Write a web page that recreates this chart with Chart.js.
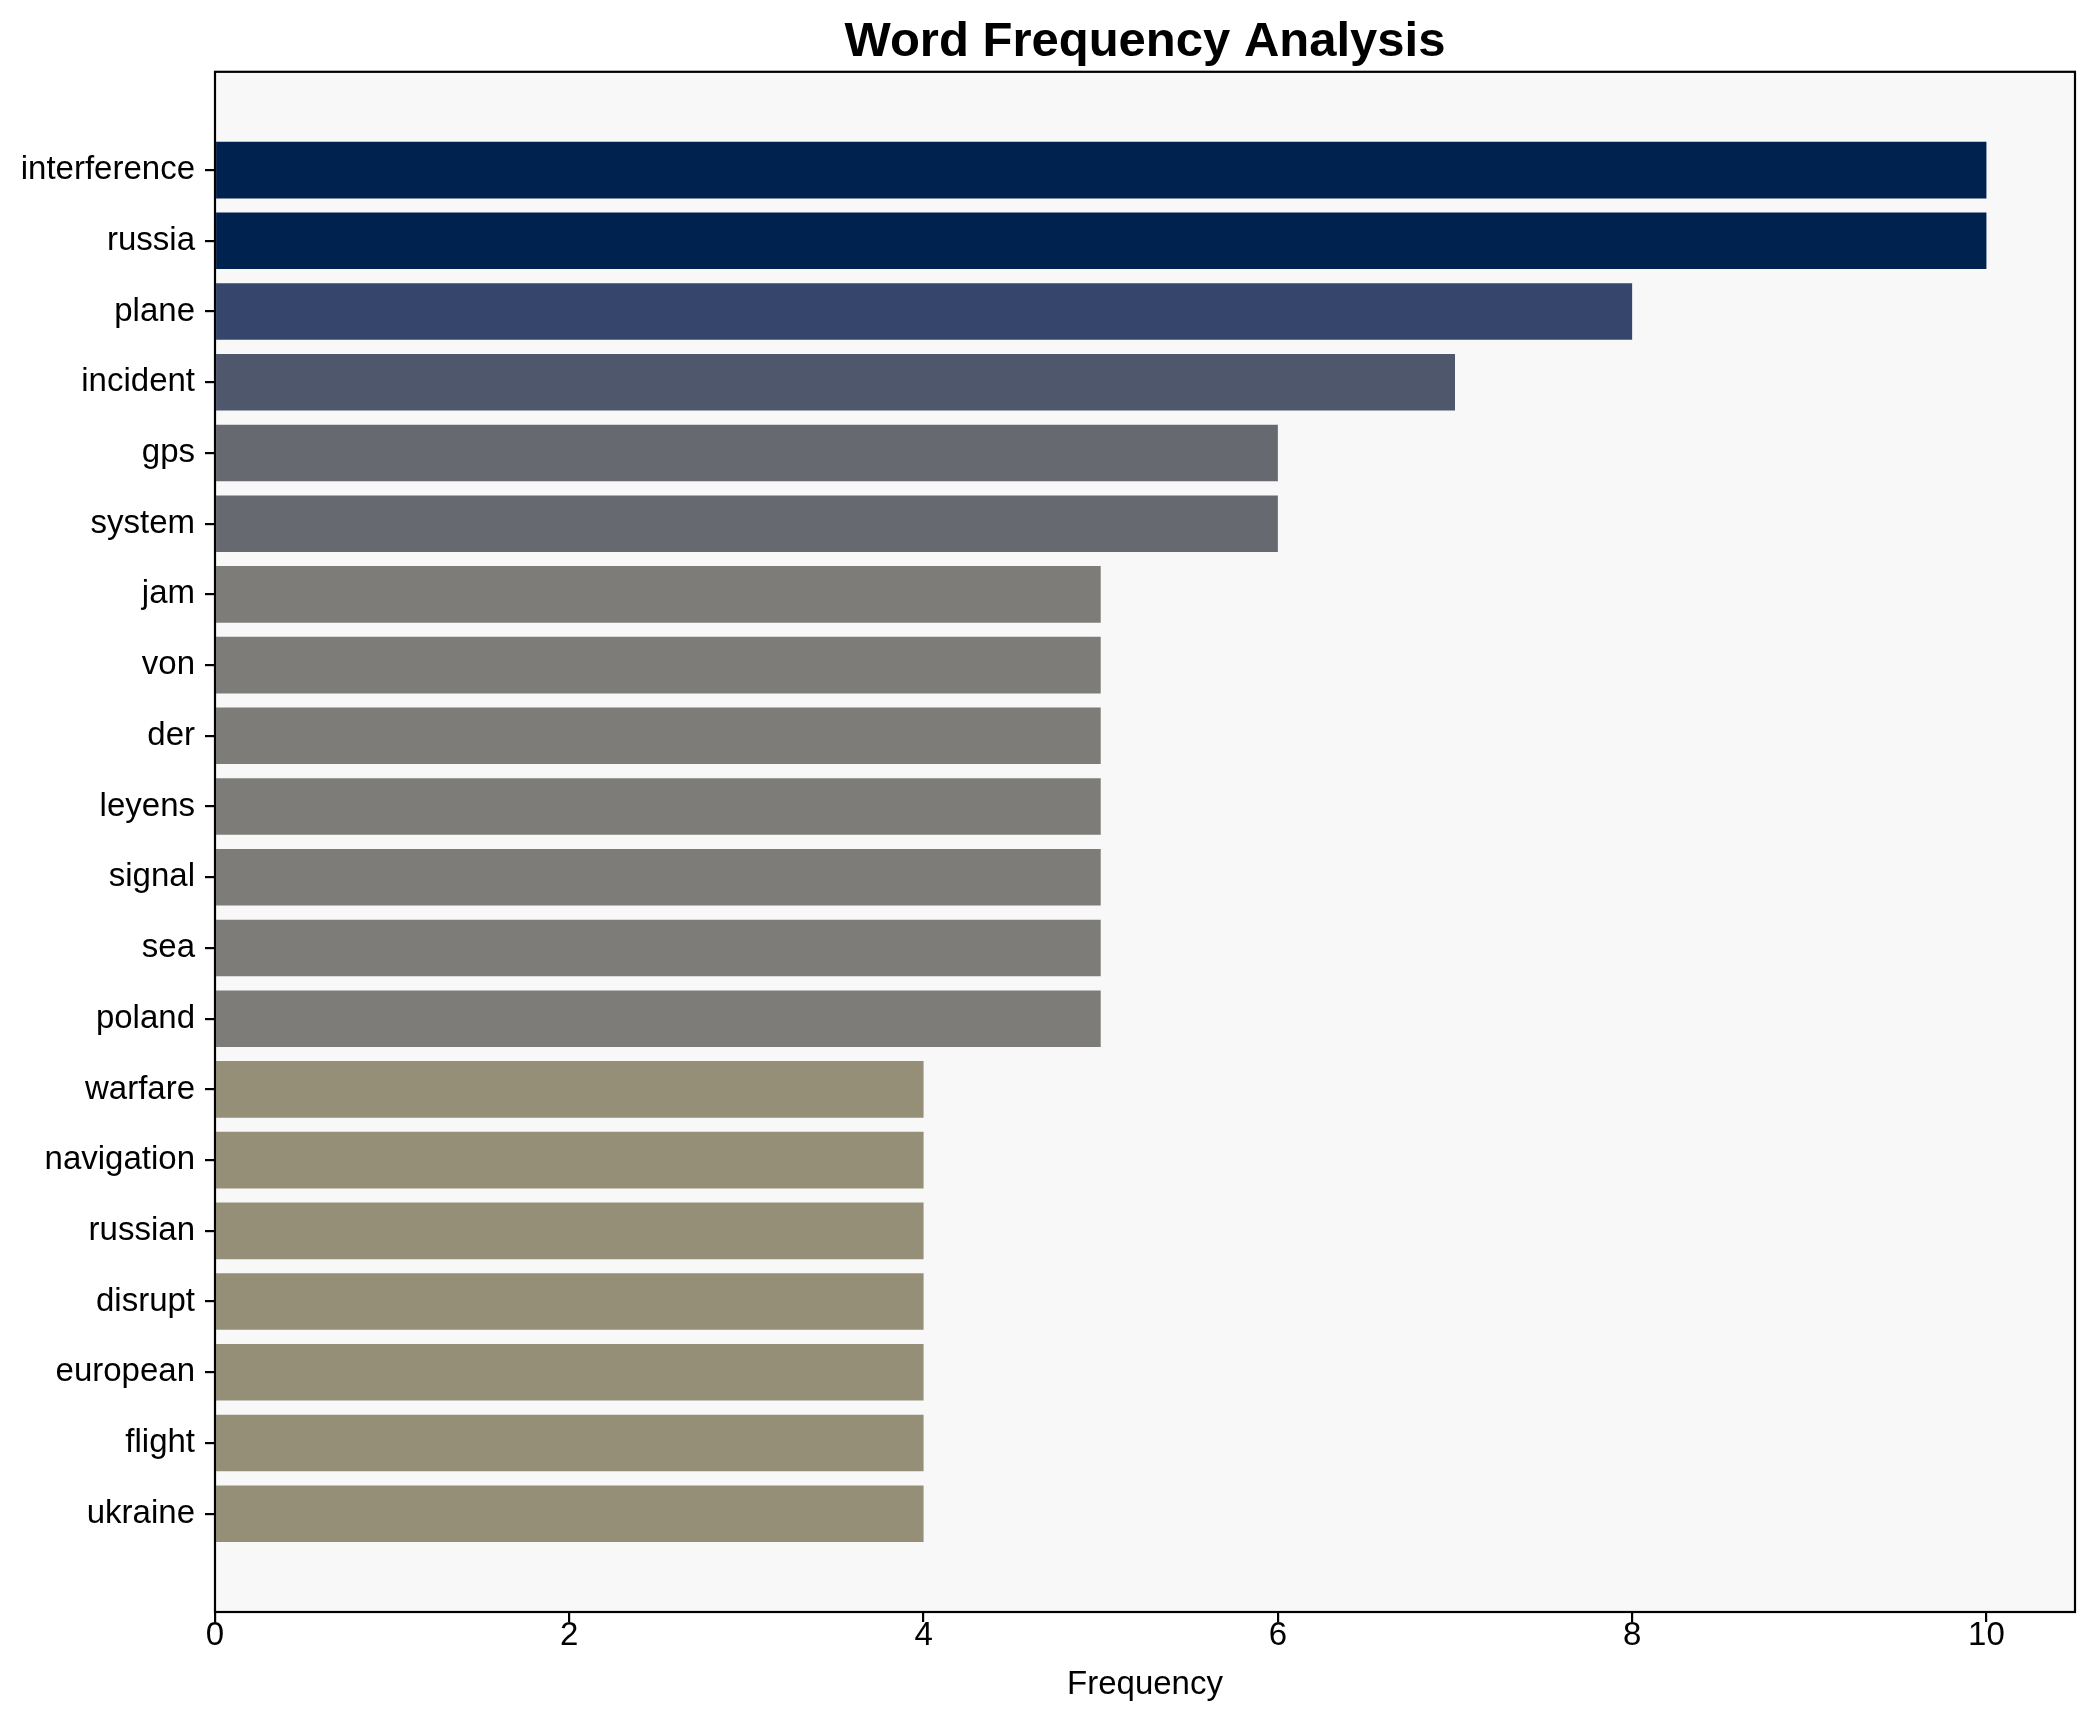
<!DOCTYPE html>
<html>
<head>
<meta charset="utf-8">
<script src="https://cdn.jsdelivr.net/npm/chart.js@4"></script>
<style>
  body { margin: 0; background: #fff; }
  canvas { display: block; }
</style>
</head>
<body>
<canvas id="MyChart" width="2095" height="1722"></canvas>
<script>
let words = ['interference', 'russia', 'plane', 'incident', 'gps', 'system', 'jam', 'von', 'der', 'leyens',
  'signal', 'sea', 'poland', 'warfare', 'navigation', 'russian', 'disrupt', 'european', 'flight', 'ukraine'];
let counts = [10, 10, 8, 7, 6, 6, 5, 5, 5, 5, 5, 5, 5, 4, 4, 4, 4, 4, 4, 4];
let barColors = ['#00224e', '#00224e', '#35456c', '#4f576c', '#666970', '#666970',
  '#7d7c78', '#7d7c78', '#7d7c78', '#7d7c78', '#7d7c78', '#7d7c78', '#7d7c78',
  '#958f78', '#958f78', '#958f78', '#958f78', '#958f78', '#958f78', '#958f78'];
let xTicks = [0, 2, 4, 6, 8, 10];

Chart.defaults.font.family = "'Liberation Sans', Arial, sans-serif";
Chart.defaults.font.size = 33;
Chart.defaults.color = '#000';

// axes frame + light plot background
let frame = {
  id: 'frame',
  beforeDatasetsDraw(chart) {
    let a = chart.chartArea, ctx = chart.ctx;
    ctx.save();
    ctx.fillStyle = '#f8f8f8';
    ctx.fillRect(a.left, a.top, a.right - a.left, a.bottom - a.top);
    ctx.restore();
  },
  afterDraw(chart) {
    let a = chart.chartArea, ctx = chart.ctx;
    ctx.save();
    ctx.strokeStyle = '#000';
    ctx.lineWidth = 2.2;
    ctx.strokeRect(a.left, a.top, a.right - a.left, a.bottom - a.top);
    ctx.restore();
  }
};

let data = {
  datasets: [{
    label: 'Frequency',
    data: words.map((w, i) => ({ x: counts[i], y: i })),
    backgroundColor: barColors,
    borderWidth: 0,
    barPercentage: 0.8,
    categoryPercentage: 1.0
  }]
};

let options = {
  indexAxis: 'y',
  responsive: false,
  devicePixelRatio: 1,
  animation: false,
  layout: { padding: { left: 0, right: 20, top: 0, bottom: 0 } },
  plugins: {
    legend: { display: false },
    tooltip: { enabled: false },
    title: {
      display: true,
      fullSize: false,
      text: 'Word Frequency Analysis',
      font: { size: 49, weight: 'bold' },
      padding: { top: 13, bottom: 0 }
    }
  },
  scales: {
    x: {
      type: 'linear',
      min: 0,
      max: 10.5,
      afterBuildTicks: (s) => { s.ticks = xTicks.map(v => ({ value: v })); },
      afterFit: (s) => { s.height = 110; },
      ticks: { padding: -6, color: '#000' },
      grid: { drawOnChartArea: false, drawTicks: true, tickLength: 10, color: '#000', lineWidth: 2.2 },
      border: { display: false },
      title: { display: true, text: 'Frequency', color: '#000', padding: { top: 0, bottom: 17 } }
    },
    y: {
      type: 'linear',
      reverse: true,
      offset: false,
      min: -1.39,
      max: 20.39,
      afterBuildTicks: (s) => { s.ticks = words.map((w, i) => ({ value: i })); },
      afterFit: (s) => { s.width = 215; },
      ticks: { padding: 10, color: '#000', callback: (v) => words[v] },
      grid: { offset: false, drawOnChartArea: false, drawTicks: true, tickLength: 10, color: '#000', lineWidth: 2.2 },
      border: { display: false }
    }
  }
};

let myChart = new Chart(document.getElementById('MyChart'), {
  type: 'bar',
  data: data,
  options: options,
  plugins: [frame]
});
</script>
</body>
</html>
